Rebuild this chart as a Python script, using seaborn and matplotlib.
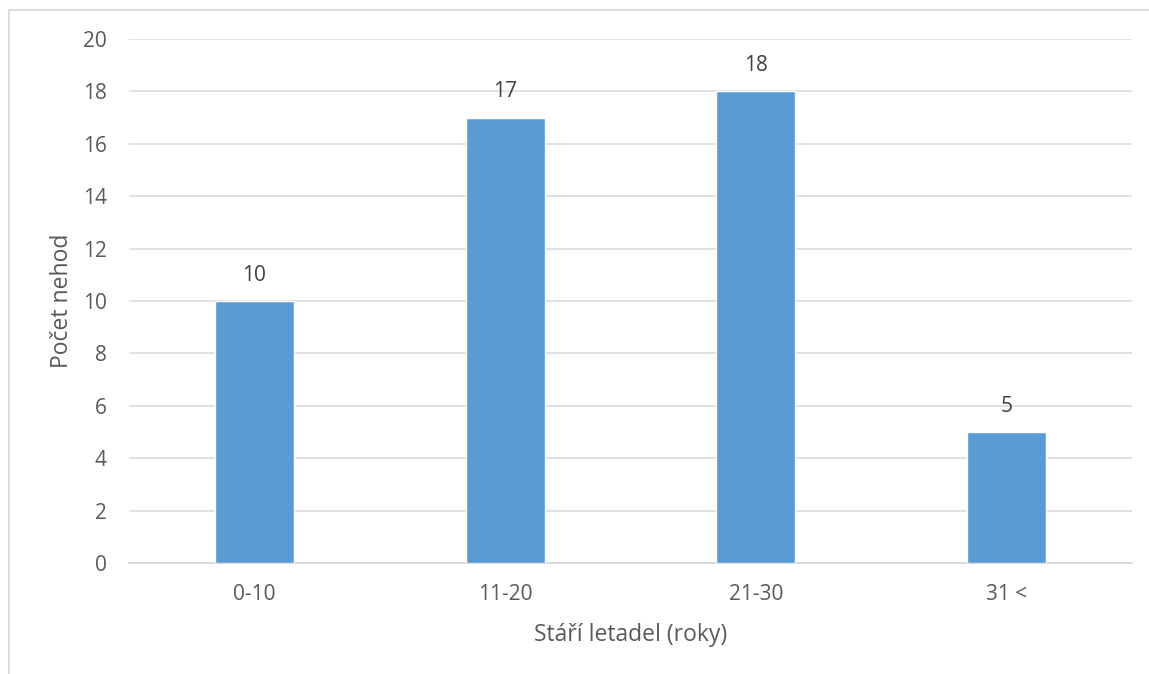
import matplotlib
matplotlib.use("Agg")
import matplotlib.pyplot as plt
import seaborn as sns
import pandas as pd
from matplotlib.patches import Rectangle

categories = ["0-10", "11-20", "21-30", "31 <"]
counts = [10, 17, 18, 5]
y_ticks = [0, 2, 4, 6, 8, 10, 12, 14, 16, 18, 20]

df = pd.DataFrame({"stari": categories, "pocet": counts})

sns.set_theme(style="white")
plt.rcParams["font.family"] = ["Open Sans", "DejaVu Sans"]

W, H = 1149, 674
fig = plt.figure(figsize=(W / 100, H / 100), dpi=100)
ax = fig.add_axes([129 / W, 1 - 563 / H, (1132 - 129) / W, (563 - 39) / H])

text_color = "#595959"
grid_color = "#D9D9D9"

sns.barplot(data=df, x="stari", y="pocet", color="#5B9BD5", width=0.315,
            saturation=1, ax=ax, zorder=3)

ax.set_ylim(0, 20)
ax.set_yticks(y_ticks)
ax.set_yticklabels([str(v) for v in y_ticks])
ax.set_xlim(-0.5, len(categories) - 0.5)
ax.yaxis.grid(True, color=grid_color, linewidth=1.1, zorder=0)
ax.set_axisbelow(True)
for side in ["top", "right", "left"]:
    ax.spines[side].set_visible(False)
ax.spines["bottom"].set_color(grid_color)
ax.spines["bottom"].set_linewidth(1.3)
ax.tick_params(axis="y", length=0, pad=16, labelsize=15, labelcolor=text_color)
ax.tick_params(axis="x", length=0, pad=15, labelsize=15, labelcolor=text_color)

for i, v in enumerate(counts):
    ax.annotate(str(v), (i, v), xytext=(0, 18.5), textcoords="offset points",
                ha="center", va="center", fontsize=15, color="#404040")

ax.set_xlabel("Stáří letadel (roky)", fontsize=16.5, color=text_color, labelpad=13)
ax.set_ylabel("Počet nehod", fontsize=16.5, color=text_color, labelpad=6)

# light frame around the chart area
fig.patches.append(Rectangle((8.5 / W, -0.1), 2.0, 1 - 9.5 / H + 0.1,
                             transform=fig.transFigure, fill=False,
                             edgecolor="#D9D9D9", linewidth=1.3))

fig.savefig("out.png", dpi=100, facecolor="white")
